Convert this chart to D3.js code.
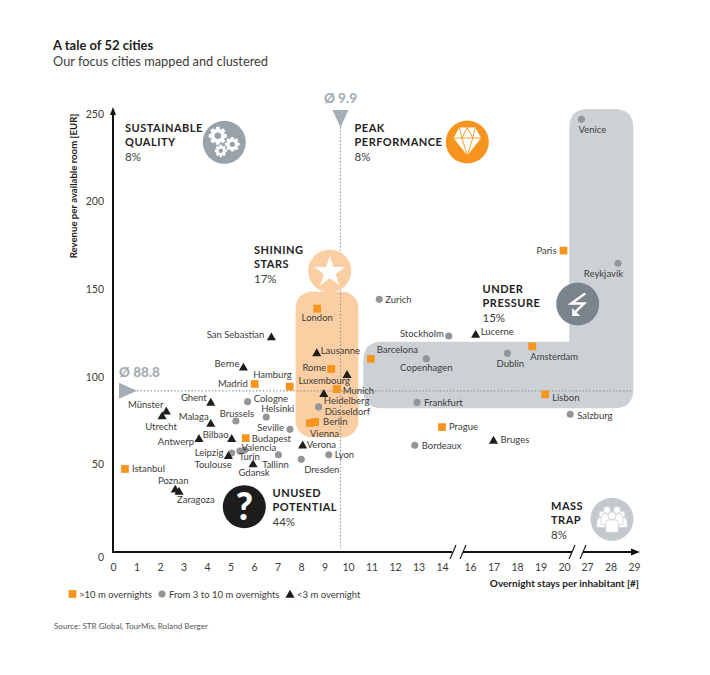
<!DOCTYPE html>
<html>
<head>
<meta charset="utf-8">
<script src="https://cdnjs.cloudflare.com/ajax/libs/d3/7.8.5/d3.min.js"></script>
<style>
  html, body { margin: 0; padding: 0; background: #fff; }
  svg { display: block; font-family: Lato, sans-serif; }
</style>
</head>
<body>
<svg id="chart" width="710" height="675"></svg>
<script>
// overnight stays per inhabitant / revenue per available room
const bigCities = ["London", "Rome", "Munich", "Hamburg", "Madrid", "Berlin", "Vienna", "Budapest", "Istanbul", "Barcelona", "Amsterdam", "Lisbon", "Prague", "Paris"];
const bigStays = [8.69, 9.29, 9.52, 7.52, 6.03, 8.6, 8.38, 5.65, 0.51, 10.97, 18.65, 19.2, 14.0, 19.98];
const bigRevenue = [138.9, 104.5, 93, 94.4, 95.9, 74.2, 73.6, 65, 47.4, 110.2, 117.4, 90, 71.3, 172];

const midCities = ["Cologne", "Brussels", "Helsinki", "Seville", "Düsseldorf", "Valencia", "Turin", "Toulouse", "Tallinn", "Dresden", "Lyon", "Zurich", "Stockholm", "Copenhagen", "Dublin", "Frankfurt", "Salzburg", "Bordeaux", "Venice", "Reykjavik"];
const midStays = [5.73, 5.23, 6.52, 7.53, 8.75, 5.6, 5.4, 5.05, 7.04, 8.01, 9.18, 11.33, 14.48, 13.33, 17.59, 12.94, 21.9, 12.84, 25.3, 28.32];
const midRevenue = [85.8, 74.8, 77, 70, 82.8, 58.2, 57.6, 56.5, 55.5, 52.9, 55.5, 144.2, 123.3, 110.3, 113.4, 85.4, 78.6, 60.9, 247, 164.8];

const smallCities = ["San Sebastian", "Lausanne", "Berne", "Luxembourg", "Heidelberg", "Ghent", "Münster", "Utrecht", "Malaga", "Antwerp", "Bilbao", "Verona", "Leipzig", "Gdansk", "Poznan", "Zaragoza", "Lucerne", "Bruges"];
const smallStays = [6.74, 8.67, 5.55, 9.96, 8.97, 4.16, 2.27, 2.09, 4.16, 3.66, 5.05, 8.07, 4.91, 5.96, 2.65, 2.81, 16.24, 17];
const smallRevenue = [122.9, 113.8, 105.6, 101.4, 90.6, 85.6, 80.5, 77.8, 73.5, 64.9, 64.9, 61.2, 55.2, 50.4, 36, 34.8, 124.4, 63.9];

const xTicks = [0, 1, 2, 3, 4, 5, 6, 7, 8, 9, 10, 11, 12, 13, 14, 16, 17, 18, 19, 20, 27, 28, 29];
const yTicks = [0, 50, 100, 150, 200, 250];
const legendLabels = [">10 m overnights", "From 3 to 10 m overnights", "<3 m overnight"];

const svg = d3.select("#chart");

// x axis is broken twice so the scale is piecewise
const x = d3.scaleLinear().domain([0, 14, 16, 20, 27, 29]).range([113, 442, 470, 564, 587, 634]);
const y = d3.scaleLinear().domain([0, 250]).range([552, 114]);

const INK = "#3c3c3b";
const ORANGE = "#f7941d";
const GREY = "#939598";
const BLACK = "#1d1d1b";
const BLUEGREY = "#a3adb5";

// title
svg.append("text").attr("x", 53).attr("y", 50).attr("font-size", 13).attr("font-weight", 700).attr("fill", BLACK).text("A tale of 52 cities");
svg.append("text").attr("x", 53).attr("y", 66).attr("font-size", 12.8).attr("fill", INK).text("Our focus cities mapped and clustered");

// cluster shapes, in data units so they sit with the points
const r1 = 16;
svg.append("rect")
  .attr("x", x(7.77)).attr("y", y(148.6))
  .attr("width", x(10.44) - x(7.77)).attr("height", y(65.5) - y(148.6))
  .attr("rx", r1).attr("fill", "#fbcfa3");

const gx0 = x(10.65), gx1 = x(21.6), gx2 = x(28.97);
const gy0 = y(252.9), gy1 = y(120), gy2 = y(82);
const rr = 19;
svg.append("path")
  .attr("fill", "#ccd1d5")
  .attr("d", `M${gx1},${gy1} L${gx1},${gy0 + rr} Q${gx1},${gy0} ${gx1 + rr},${gy0}
    L${gx2 - rr},${gy0} Q${gx2},${gy0} ${gx2},${gy0 + rr}
    L${gx2},${gy2 - rr} Q${gx2},${gy2} ${gx2 - rr},${gy2}
    L${gx0 + rr},${gy2} Q${gx0},${gy2} ${gx0},${gy2 - rr}
    L${gx0},${gy1 + rr} Q${gx0},${gy1} ${gx0 + rr},${gy1} Z`);

// average lines (drawn where the picture has them)
const avgXpos = x(9.68), avgYpos = y(92);
svg.append("line").attr("x1", avgXpos).attr("x2", avgXpos).attr("y1", 127).attr("y2", 549)
  .attr("stroke", "#8f979d").attr("stroke-width", 1.2).attr("stroke-dasharray", "1.4,2");
svg.append("line").attr("x1", 137).attr("x2", gx2).attr("y1", avgYpos).attr("y2", avgYpos)
  .attr("stroke", "#8f979d").attr("stroke-width", 1.2).attr("stroke-dasharray", "1.4,2");
svg.append("path").attr("fill", BLUEGREY).attr("d", `M${avgXpos - 8},110 L${avgXpos + 8},110 L${avgXpos},127.5 Z`);
svg.append("path").attr("fill", BLUEGREY).attr("d", `M119,${avgYpos - 8} L119,${avgYpos + 8} L137,${avgYpos} Z`);
svg.append("text").attr("x", avgXpos).attr("y", 103).attr("text-anchor", "middle").attr("font-size", 13.5).attr("font-weight", 900).attr("fill", BLUEGREY).text("Ø 9.9");
svg.append("text").attr("x", 119).attr("y", 377).attr("font-size", 13.5).attr("font-weight", 900).attr("fill", BLUEGREY).text("Ø 88.8");

// axes
const yAxis = d3.axisLeft(y).tickValues(yTicks).tickSize(0).tickPadding(9);
const yG = svg.append("g").attr("transform", "translate(113,0)").call(yAxis);
yG.select(".domain").remove();
yG.selectAll("text").attr("font-size", 10.5).attr("font-family", "Lato").attr("fill", INK);
yG.selectAll(".tick").filter(d => d === 0).select("text").attr("dy", "0.85em");

const xAxis = d3.axisBottom(x).tickValues(xTicks).tickFormat(d3.format("d")).tickSize(0).tickPadding(12);
const xG = svg.append("g").attr("transform", "translate(0,552)").call(xAxis);
xG.select(".domain").remove();
xG.selectAll("text").attr("font-size", 10.5).attr("font-family", "Lato").attr("fill", INK);

const axisLine = (x1, y1, x2, y2, w) => svg.append("line")
  .attr("x1", x1).attr("y1", y1).attr("x2", x2).attr("y2", y2)
  .attr("stroke", "#111").attr("stroke-width", w);

axisLine(113, 553, 113, 112, 2);
svg.append("path").attr("fill", "#111").attr("d", "M113,107 L116,115 L110,115 Z");

// the two breaks in the x axis
[[112, 452], [463, 572], [583, 634]].forEach(seg => axisLine(seg[0], 552, seg[1], 552, 2));
[453, 463, 572, 583].forEach(px => axisLine(px - 3, 559, px + 3, 545, 1.1));
svg.append("path").attr("fill", "#111").attr("d", "M640,552 L631,555.5 L631,548.5 Z");

svg.append("text").attr("transform", "translate(77,186) rotate(-90)").attr("text-anchor", "middle")
  .attr("font-size", 9.6).attr("font-weight", 700).attr("fill", BLACK).text("Revenue per available room [EUR]");
svg.append("text").attr("x", 639).attr("y", 587).attr("text-anchor", "end")
  .attr("font-size", 10).attr("font-weight", 700).attr("fill", BLACK).text("Overnight stays per inhabitant [#]");

// cluster badges
function badge(cx, cy, fill) {
  const g = svg.append("g").attr("transform", `translate(${cx},${cy})`);
  g.append("circle").attr("r", 21.5).attr("fill", fill);
  return g;
}

function gearPath(R, teeth) {
  const pts = [];
  for (let i = 0; i < teeth; i++) {
    const a = i / teeth * 2 * Math.PI, s = Math.PI / teeth;
    [[0.72, -s * 0.95], [1, -s * 0.45], [1, s * 0.45], [0.72, s * 0.95]].forEach(p => {
      pts.push([Math.cos(a + p[1]) * R * p[0], Math.sin(a + p[1]) * R * p[0]]);
    });
  }
  return d3.line()(pts) + "Z";
}

const gears = badge(224.3, 142.3, "#98a2a9");
[[-6.5, -6.5, 9.2], [8, 2, 7.4], [-3.5, 8.5, 6.2]].forEach(g => {
  const n = gears.append("g").attr("transform", `translate(${g[0]},${g[1]})`);
  n.append("path").attr("d", gearPath(g[2], 8)).attr("fill", "#fff");
  n.append("circle").attr("r", g[2] * 0.36).attr("fill", "#98a2a9");
});

const diamond = badge(467.3, 142, ORANGE);
diamond.append("path").attr("fill", "#fff").attr("d", "M-8,-14.5 L8,-14.5 L13.8,-4 L0,13.5 L-13.8,-4 Z");
diamond.append("path").attr("fill", "none").attr("stroke", ORANGE).attr("stroke-width", 0.9)
  .attr("d", "M-13.8,-4 L13.8,-4 M-8,-14.5 L-5.5,-4 L0,13.5 L5.5,-4 L8,-14.5 M-5.5,-4 L0,-14.5 L5.5,-4");

const star = badge(329.7, 271, "#fbcfa3");
star.append("path").attr("fill", "#fff").attr("transform", "translate(0,1)").attr("d", d3.symbol(d3.symbolStar, 300)());

const bolt = badge(577.7, 304, "#7b848c");
bolt.append("path").attr("fill", "none").attr("stroke", "#fff").attr("stroke-width", 2.4).attr("stroke-linejoin", "miter")
  .attr("d", "M7.5,-10.5 L-6.5,-0.5 L6.5,-0.5 L-2,7.5");
bolt.append("path").attr("fill", "#fff").attr("d", "M-5.5,12 L-5.5,4 L2.5,12 Z");

const question = badge(244.3, 506.7, BLACK);
question.append("text").attr("text-anchor", "middle").attr("y", 13).attr("font-size", 37).attr("font-weight", 900).attr("fill", "#fff").text("?");

const crowd = badge(612, 519.3, "#c4c9cd");
// back row first so the front figures overlap it
[[-10, -3, 0.8], [10, -3, 0.8], [-5, -7, 0.9], [5, -7, 0.9], [0, -1, 1]].forEach(p => {
  const n = crowd.append("g").attr("transform", `translate(${p[0]},${p[1]}) scale(${p[2]})`);
  n.append("path").attr("fill", "#fff").attr("stroke", "#c4c9cd").attr("stroke-width", 0.8)
    .attr("d", "M-6.5,14 L-6.5,6 Q-6.5,1.5 -2,1.5 L2,1.5 Q6.5,1.5 6.5,6 L6.5,14 Z");
  n.append("circle").attr("cy", -2.5).attr("r", 4).attr("fill", "#fff").attr("stroke", "#c4c9cd").attr("stroke-width", 0.8);
});

// cluster captions
const clusterLines = [["SUSTAINABLE", "QUALITY"], ["PEAK", "PERFORMANCE"], ["SHINING", "STARS"], ["UNDER", "PRESSURE"], ["UNUSED", "POTENTIAL"], ["MASS", "TRAP"]];
const clusterShares = ["8%", "8%", "17%", "15%", "44%", "8%"];
const captionPos = [[125, 132], [354.5, 132], [254, 254], [482.5, 292.5], [272.5, 496.5], [551, 510]];

clusterLines.forEach((lines, i) => {
  const g = svg.append("g").attr("transform", `translate(${captionPos[i][0]},${captionPos[i][1]})`);
  lines.forEach((t, j) => {
    g.append("text").attr("y", j * 14.4).attr("font-size", 11).attr("font-weight", 700)
      .attr("letter-spacing", 0.5).attr("fill", "#222").text(t);
  });
  g.append("text").attr("y", 29.2).attr("font-size", 11.5).attr("fill", INK).text(clusterShares[i]);
});

// label placement relative to its marker: dx, dy, anchor
const labelPlace = {
  "London": [0, 9, "middle"], "Rome": [-5, -1, "end"], "Munich": [6, 2, "start"], "Hamburg": [2, -12, "end"],
  "Madrid": [-7, 0, "end"], "Berlin": [8, 0, "start"], "Vienna": [0, 11, "start"], "Budapest": [6, 0, "start"],
  "Istanbul": [7, 0, "start"], "Barcelona": [6, -9, "start"], "Amsterdam": [-2, 10, "start"], "Lisbon": [7, 3, "start"],
  "Prague": [7, 0, "start"], "Paris": [-7, 0, "end"],
  "Cologne": [6, -3, "start"], "Brussels": [1, -7, "middle"], "Helsinki": [-5, -8, "start"], "Seville": [-6, -1.5, "end"],
  "Düsseldorf": [6, 4.5, "start"], "Valencia": [-3, -2.8, "start"], "Turin": [-1, 5.5, "start"], "Toulouse": [0, 12, "end"],
  "Tallinn": [-3, 9.5, "middle"], "Dresden": [3, 10, "start"], "Lyon": [6, 0, "start"], "Zurich": [6, 0, "start"],
  "Stockholm": [-5, -2, "end"], "Copenhagen": [0, 9, "middle"], "Dublin": [3, 10, "middle"], "Frankfurt": [7, 0, "start"],
  "Salzburg": [7, 1, "start"], "Bordeaux": [7, 0, "start"], "Venice": [-3, 10, "start"], "Reykjavik": [5, 10, "end"],
  "San Sebastian": [-7, -2, "end"], "Lausanne": [4, -2, "start"], "Berne": [-4, -3, "end"], "Luxembourg": [3, 6, "end"],
  "Heidelberg": [0, 7.8, "start"], "Ghent": [-4, -4, "end"], "Münster": [-3, -6, "end"], "Utrecht": [-1, 11, "middle"],
  "Malaga": [-2, -7, "end"], "Antwerp": [-5, 3, "end"], "Bilbao": [-3, -4, "end"], "Verona": [4, 0, "start"],
  "Leipzig": [-5, -3, "end"], "Gdansk": [1, 9, "middle"], "Poznan": [-2, -8, "middle"], "Zaragoza": [-2, 9, "start"],
  "Lucerne": [5, -2, "start"], "Bruges": [7, 0, "start"]
};

const groups = [
  { names: bigCities, stays: bigStays, revenue: bigRevenue, type: d3.symbolSquare, size: 60, fill: ORANGE, nudge: 0 },
  { names: midCities, stays: midStays, revenue: midRevenue, type: d3.symbolCircle, size: 40, fill: GREY, nudge: 0 },
  { names: smallCities, stays: smallStays, revenue: smallRevenue, type: d3.symbolTriangle, size: 36, fill: BLACK, nudge: 1 } // triangle centroid sits low
];

groups.forEach(gr => {
  const rows = gr.names.map((name, i) => ({ name, sx: gr.stays[i], sy: gr.revenue[i] }));

  svg.append("g").selectAll("path").data(rows).enter().append("path")
    .attr("d", d3.symbol(gr.type, gr.size))
    .attr("transform", d => `translate(${x(d.sx)},${y(d.sy) + gr.nudge})`)
    .attr("fill", gr.fill);
});

// labels go on top of every marker
groups.forEach(gr => {
  const rows = gr.names.map((name, i) => ({ name, sx: gr.stays[i], sy: gr.revenue[i] }));

  svg.append("g").selectAll("text").data(rows).enter().append("text")
    .attr("x", d => x(d.sx) + labelPlace[d.name][0])
    .attr("y", d => y(d.sy) + labelPlace[d.name][1] + 3.4)
    .attr("text-anchor", d => labelPlace[d.name][2])
    .attr("font-size", 9.5).attr("fill", INK)
    .text(d => d.name);
});

// legend
const legendX = [72.5, 162, 290];
const legendTypes = [d3.symbolSquare, d3.symbolCircle, d3.symbolTriangle];
const legendSizes = [60, 40, 36];
const legendFills = [ORANGE, GREY, BLACK];
legendLabels.forEach((t, i) => {
  svg.append("path").attr("d", d3.symbol(legendTypes[i], legendSizes[i]))
    .attr("transform", `translate(${legendX[i]},${i === 2 ? 595 : 594})`).attr("fill", legendFills[i]);
  svg.append("text").attr("x", legendX[i] + (i === 0 ? 6.5 : 7)).attr("y", 597.5)
    .attr("font-size", 9.5).attr("fill", INK).text(t);
});

svg.append("text").attr("x", 54).attr("y", 628.5).attr("font-size", 8.1).attr("fill", "#555").text("Source: STR Global, TourMis, Roland Berger");
</script>
</body>
</html>
